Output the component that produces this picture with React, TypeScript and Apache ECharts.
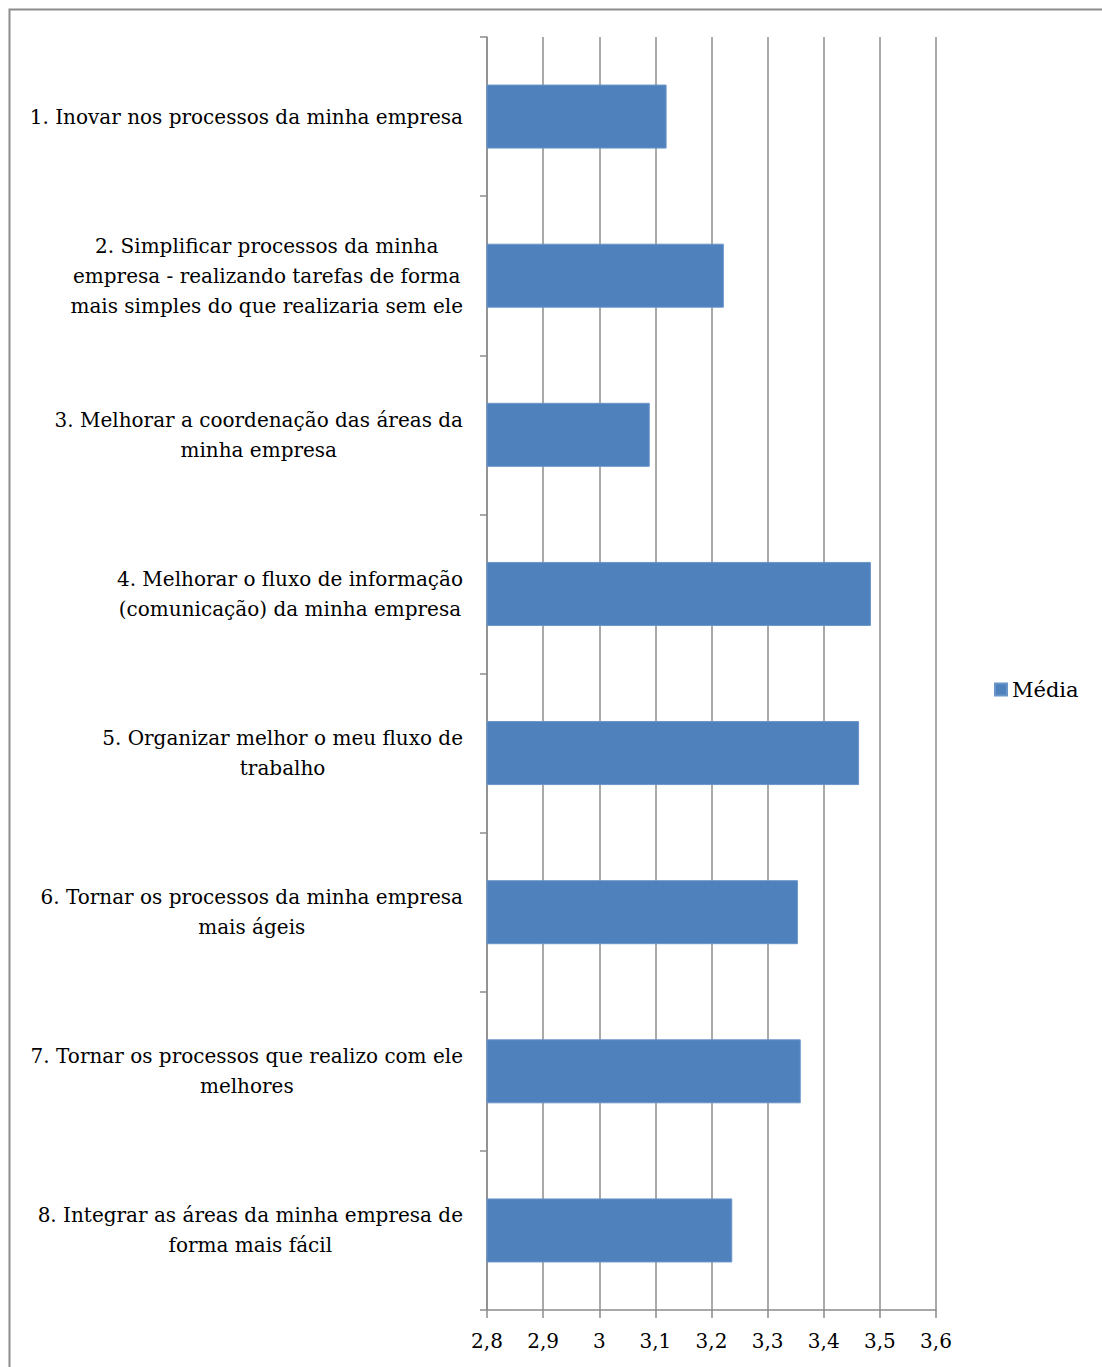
import React, { useEffect, useRef } from "react";
import * as echarts from "echarts";

const categories = [
  "1. Inovar nos processos da minha empresa",
  "2. Simplificar processos da minha\nempresa - realizando tarefas de forma\nmais simples do que realizaria sem ele",
  "3. Melhorar a coordenação das áreas da\nminha empresa",
  "4. Melhorar o fluxo de informação\n(comunicação) da minha empresa",
  "5. Organizar melhor o meu fluxo de\ntrabalho",
  "6. Tornar os processos da minha empresa\nmais ágeis",
  "7. Tornar os processos que realizo com ele\nmelhores",
  "8. Integrar as áreas da minha empresa de\nforma mais fácil",
];
const media = [3.12, 3.222, 3.09, 3.484, 3.463, 3.354, 3.359, 3.237];
const seriesName = "Média";

const FONT = "DejaVu Serif";

export default function App() {
  const ref = useRef<HTMLDivElement>(null);
  useEffect(() => {
    const chart = echarts.init(ref.current!, null, { renderer: "svg" });
    chart.setOption({
      animation: false,
      backgroundColor: "#ffffff",
      textStyle: { fontFamily: FONT },
      graphic: [
        {
          type: "rect",
          shape: { x: 9.5, y: 9.5, width: 1200, height: 1500 },
          style: { fill: "none", stroke: "#8c8c8c", lineWidth: 2 },
          silent: true,
        },
      ],
      legend: {
        left: 989,
        top: 674,
        itemWidth: 12,
        itemHeight: 12,
        itemGap: 4,
        icon: "rect",
        textStyle: { fontFamily: FONT, fontSize: 21, color: "#000" },
        data: [seriesName],
      },
      grid: { left: 487, right: 166, top: 37, bottom: 57, containLabel: false },
      xAxis: {
        type: "value",
        min: 2.8,
        max: 3.6,
        interval: 0.1,
        axisLine: { show: true, lineStyle: { color: "#8c8c8c", width: 1.5 } },
        axisTick: { show: true, inside: false, length: 8, lineStyle: { color: "#8c8c8c", width: 1.5 } },
        splitLine: { show: true, lineStyle: { color: "#8c8c8c", width: 1.5 } },
        axisLabel: {
          margin: 21,
          fontFamily: FONT,
          fontSize: 20,
          color: "#000",
          formatter: (v: number) => String(Math.round(v * 10) / 10).replace(".", ","),
        },
      },
      yAxis: {
        type: "category",
        inverse: true,
        data: categories,
        axisLine: { show: true, lineStyle: { color: "#8c8c8c", width: 1.5 } },
        axisTick: { show: true, inside: false, length: 7, lineStyle: { color: "#8c8c8c", width: 1.5 } },
        axisLabel: {
          margin: 24,
          align: "right",
          lineHeight: 30,
          fontFamily: FONT,
          fontSize: 20,
          color: "#000",
          formatter: (v: string) =>
            v
              .split("\n")
              .map((l) => "{c|" + l + "}")
              .join("\n"),
          rich: {
            c: { align: "center", fontFamily: FONT, fontSize: 20, lineHeight: 30, color: "#000" },
          },
        },
      },
      series: [
        {
          name: seriesName,
          type: "bar",
          data: media,
          barWidth: 64,
          itemStyle: { color: "#4F81BD", borderColor: "#6a95c9", borderWidth: 1 },
        },
      ],
    });
    return () => chart.dispose();
  }, []);
  return (
    <div
      ref={ref}
      style={{ position: "absolute", left: 0, top: 0, width: 1102, height: 1367 }}
    />
  );
}
